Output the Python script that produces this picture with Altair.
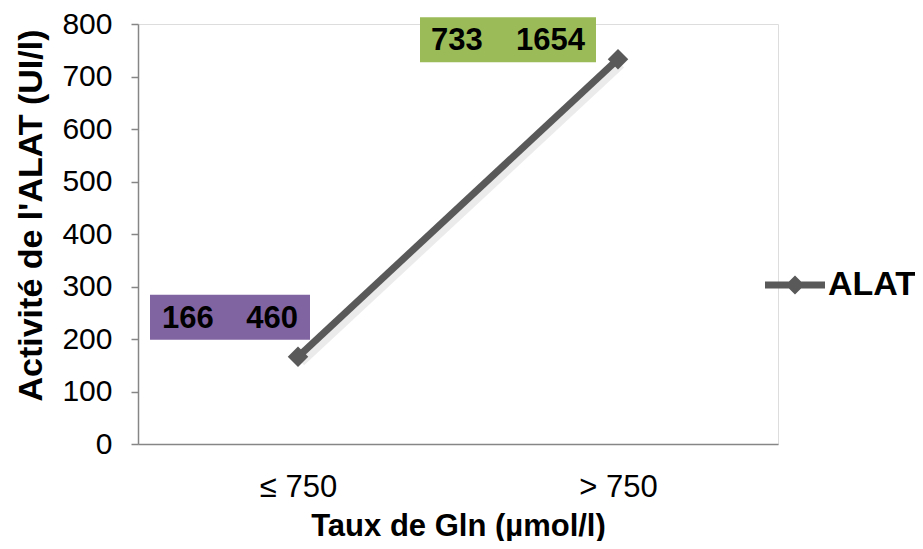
import altair as alt
import pandas as pd

categories = ["≤ 750", "> 750"]
alat_values = [166, 733]
second_values = [460, 1654]
series_name = "ALAT"
y_ticks = [0, 100, 200, 300, 400, 500, 600, 700, 800]

df = pd.DataFrame({
    "cat": categories,
    "val": alat_values,
    "val2": second_values,
    "series": [series_name] * len(categories),
})

FONT = "Liberation Sans"
LINE = "#595959"

x_enc = alt.X("cat:N", sort=categories, scale=alt.Scale(type="point", padding=0.5),
              axis=alt.Axis(title="Taux de Gln (µmol/l)", labelFontSize=31, labelFont=FONT,
                            labelColor="black", labelPadding=28, ticks=False,
                            domainColor="#868686", domainWidth=1.5, labelAngle=0,
                            titleFont=FONT, titleFontSize=31, titleFontWeight="bold",
                            titleColor="black", titleY=82, titleBaseline="middle"))
y_enc = alt.Y("val:Q", scale=alt.Scale(domain=[0, 800], nice=False),
              axis=alt.Axis(title="Activité de l'ALAT (UI/l)", values=y_ticks, grid=False,
                            labelFontSize=30, labelFont=FONT, labelColor="black",
                            labelPadding=19, tickSize=7, tickColor="#868686",
                            domainColor="#868686", domainWidth=1.5, tickWidth=1.5,
                            titleFont=FONT, titleFontSize=34, titleFontWeight="bold",
                            titleColor="black", titleX=-107, titleY=191, titleAngle=-90,
                            titleAlign="center", titleBaseline="middle"))

base = alt.Chart(df)

shadow = base.mark_line(color="black", opacity=0.08, strokeWidth=12, xOffset=2, yOffset=4).encode(
    x=x_enc, y=y_enc)
line = base.mark_line(color=LINE, strokeWidth=7).encode(x=x_enc, y=y_enc)

legend_path = ("M-1,-0.117 L1,-0.117 L1,0.117 L-1,0.117 Z "
               "M0,-0.32 L0.32,0 L0,0.32 L-0.32,0 Z")
points = base.mark_point(filled=True, shape="diamond", size=420, opacity=1).encode(
    x=x_enc, y=y_enc,
    color=alt.Color("series:N", scale=alt.Scale(range=[LINE]),
                    legend=alt.Legend(title=None, orient="none", legendX=627, legendY=231,
                                      symbolType=legend_path, symbolSize=3600,
                                      labelFont=FONT, labelFontSize=34, labelFontWeight="bold",
                                      labelColor="black", labelOffset=3, padding=0,
                                      symbolStrokeWidth=0)))


def label_box(cat, color, left, right, top, bottom, base_dy, pad):
    sub = base.transform_filter(alt.datum.cat == cat)
    rect = sub.mark_rect(color=color, xOffset=left, x2Offset=right,
                         yOffset=top, y2Offset=bottom).encode(
        x=x_enc, x2=alt.X2("cat"), y=y_enc, y2=alt.Y2("val"))
    t1 = sub.mark_text(align="left", baseline="alphabetic", dx=left + pad, dy=base_dy,
                       font=FONT, fontSize=31, fontWeight="bold", color="black").encode(
        x=x_enc, y=y_enc, text="val:Q")
    t2 = sub.mark_text(align="right", baseline="alphabetic", dx=right - pad, dy=base_dy,
                       font=FONT, fontSize=31, fontWeight="bold", color="black").encode(
        x=x_enc, y=y_enc, text="val2:Q")
    return rect + t1 + t2


box1 = label_box(categories[0], "#8064A2", -148, 12, -62, -17, -29, 12)
box2 = label_box(categories[1], "#9BBB59", -198, -22, -42, 3, -9, 11)

chart = alt.layer(shadow, line, points, box1, box2).properties(
    width=640, height=420,
    autosize=alt.AutoSizeParams(type="none"),
    padding={"left": 130, "top": 16, "right": 137, "bottom": 97},
).configure_view(stroke=None).configure(background="white")

chart.save("out.html", embed_options={"renderer": "svg", "actions": False})
